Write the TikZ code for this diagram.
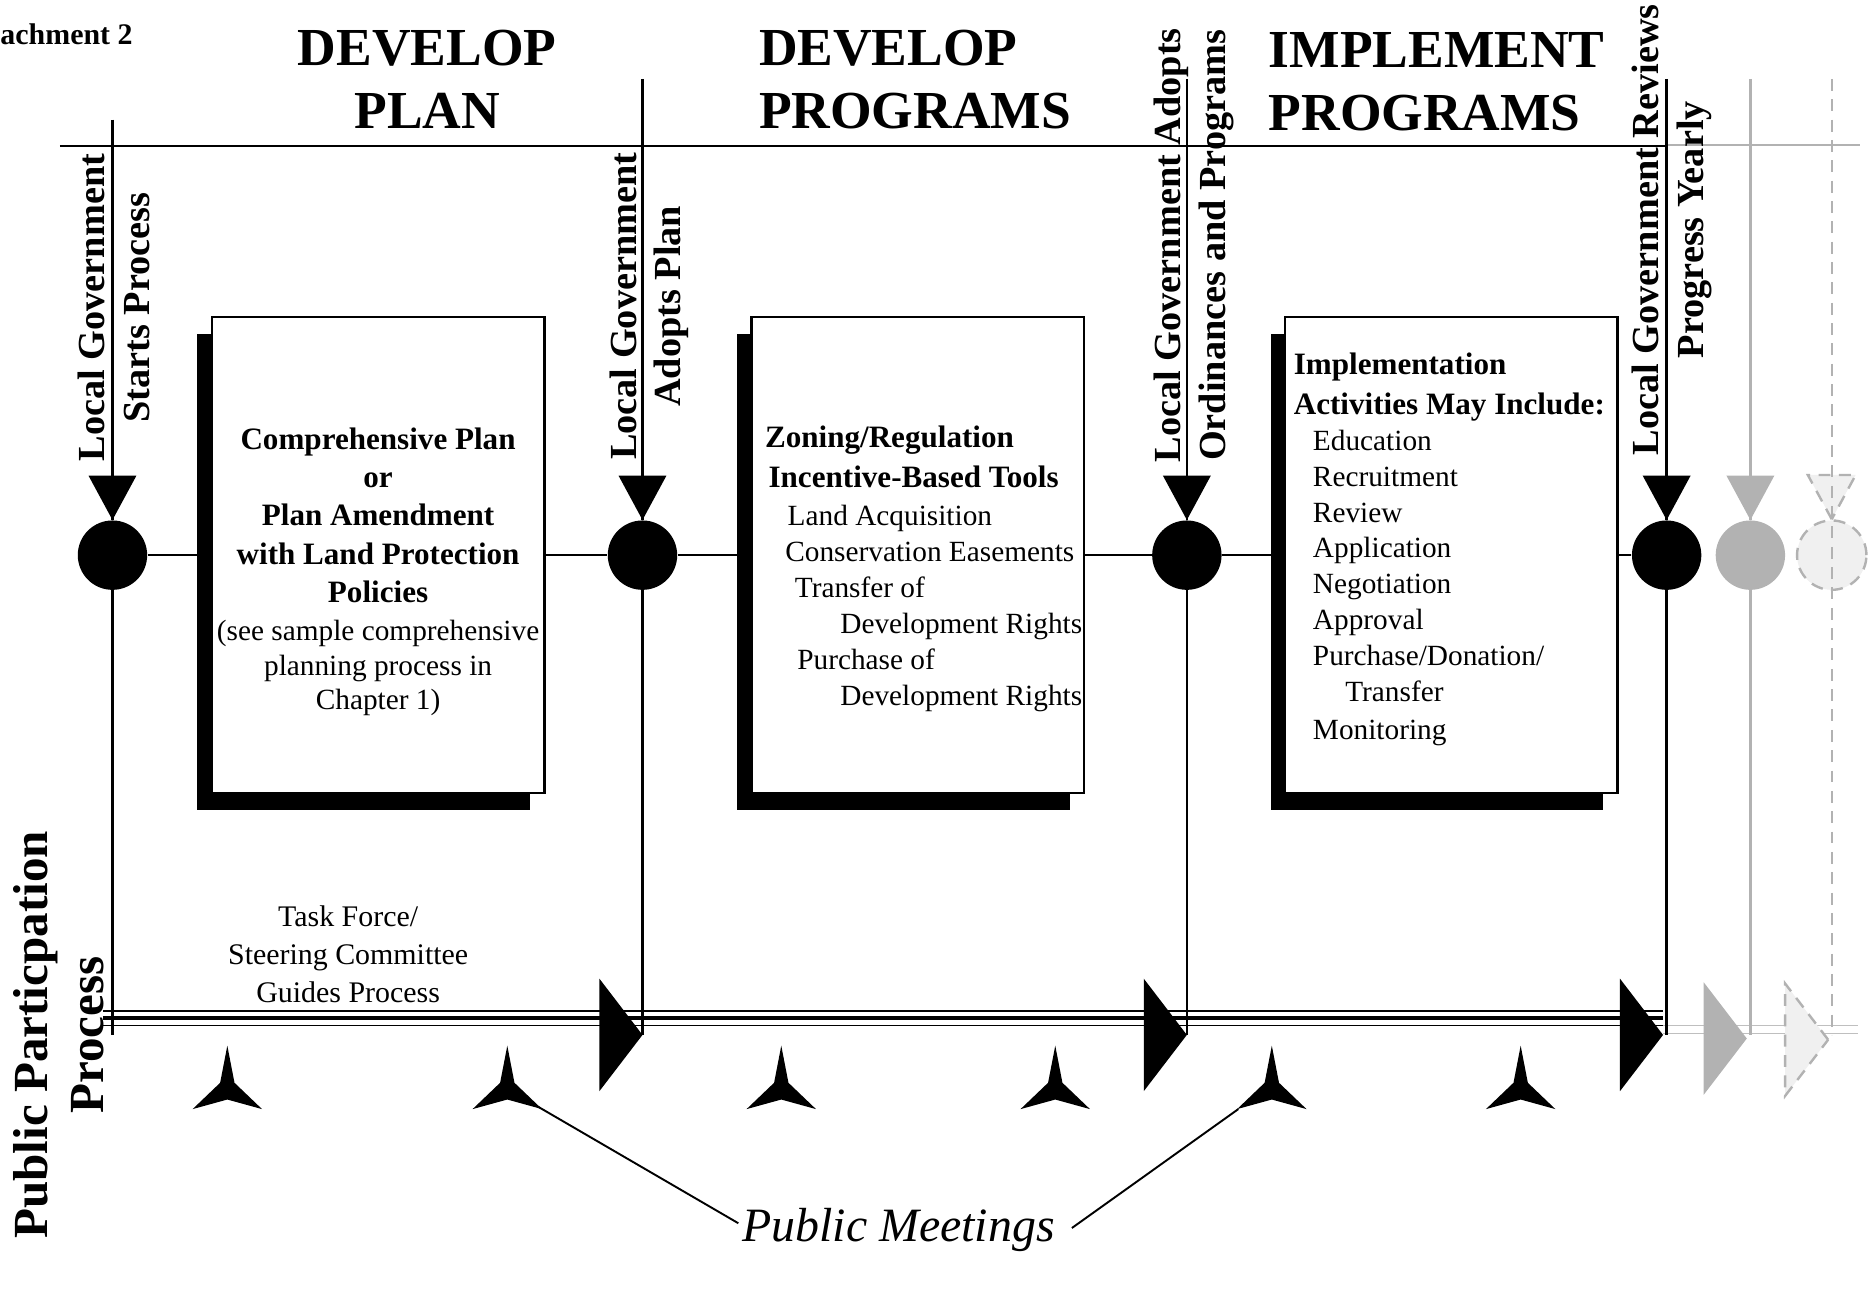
\documentclass[tikz,border=0pt]{standalone}
\usepackage{fontspec}
\setmainfont{Liberation Serif}
\usetikzlibrary{shadows}
\def\downflag[#1](#2){\path[#1,shift={(#2)}] (0,0) -- (-20,-37) -- (20,-37) -- cycle;}
\def\rightflag[#1](#2){\path[#1,shift={(#2)}] (0,0) -- (-36,-47) -- (-36,47) -- cycle;}
\def\meeting(#1){\fill[shift={(#1)}] (0,0) -- (6,31) -- (29,53) -- (0,45) -- (-29,53) -- (-6,31) -- cycle;}
\def\boxbf{\fontsize{13}{16}\selectfont\bfseries}
\tikzset{
	rule/.style={line width=1pt},
	ghost/.style={line width=1pt, draw=black!30},
	faint/.style={fill=black!6, draw=black!30, line width=1pt, dash pattern=on 5pt off 3.5pt},
	stone/.style={circle, fill=black, minimum size=29pt, inner sep=0pt},
	page/.style={draw, line width=1pt, fill=white, minimum width=139pt, minimum height=199pt, inner sep=0pt,
		general shadow={fill=black, shadow xshift=-6pt, shadow yshift=-7pt}},
	head/.style={inner sep=0pt, font=\fontsize{22.35}{26.5}\selectfont\bfseries},
	vlabel/.style={rotate=90, anchor=north, align=center, inner sep=0pt, font=\fontsize{16}{18.75}\selectfont\bfseries},
	body/.style={inner sep=0pt, font=\fontsize{12.25}{15}\selectfont},
}

\begin{document}
\begin{tikzpicture}[x=0.5pt, y=-0.5pt]
		%%%%% START %%%%%
		\useasboundingbox (0,0) rectangle (1568,1082);
		
		\node[anchor=base west, inner sep=0pt, font=\fontsize{12.5}{15}\selectfont\bfseries] (att) at (0,37) {achment 2};
		
		\node[head, align=center] (h1) at (357,66.5) {DEVELOP\\PLAN};
		\node[head, align=left, anchor=west] (h2) at (634,66.5) {DEVELOP\\PROGRAMS};
		\node[head, align=left, anchor=west] (h3) at (1060,68.5) {IMPLEMENT\\PROGRAMS};
		
		% top rule
		\draw[rule] (50,122) -- (1393,122);
		\draw[ghost] (1393,121) -- (1555,121);
		
		% participation line
		\coordinate (pp0) at (86,851);
		\coordinate (pp1) at (1390,851);
		\draw[line width=0.6pt, double distance=5.4pt] (pp0) -- (pp1);
		\draw[line width=1.8pt] (pp0) -- (pp1);
		\coordinate (pg0) at (1390,860.5);
		\coordinate (pg1) at (1553,860.5);
		\draw[line width=0.5pt, draw=black!25, double distance=3pt] (pg0) -- (pg1);
		
		% milestones
		\foreach \n/\x/\t in {1/94/100, 2/537/66, 3/992/66, 4/1393/66} {
			\coordinate (t\n) at (\x,\t);
			\coordinate (b\n) at (\x,865);
			\node[stone] (c\n) at (\x,464) {};
			\draw[rule] (t\n) -- (c\n) -- (b\n);
			\downflag[fill=black](c\n.north);
		}
		\coordinate (t5) at (1463,66);
		\coordinate (b5) at (1463,865);
		\node[stone, fill=black!30] (c5) at (1463,464) {};
		\draw[ghost] (t5) -- (c5) -- (b5);
		\downflag[fill=black!30](c5.north);
		\coordinate (t6) at (1531,66);
		\coordinate (b6) at (1531,865);
		\node[stone, faint] (c6) at (1531,464) {};
		\downflag[faint](c6.north);
		\draw[ghost, dash pattern=on 5pt off 3.5pt] (t6) -- (b6);
		
		\rightflag[fill=black](b2);
		\rightflag[fill=black](b3);
		\rightflag[fill=black]([xshift=-1.5pt]b4);
		\rightflag[fill=black!30]([shift={(-3,3)}]b5);
		\rightflag[faint]([shift={(-3,4)}]b6);
		
		\node[vlabel] (l1) at (65,257) {Local Government\\Starts Process};
		\node[vlabel] (l2) at (509,256) {Local Government\\Adopts Plan};
		\node[vlabel] (l3) at (964,205) {Local Government Adopts\\Ordinances and Programs};
		\node[vlabel] (l4) at (1364,192) {Local Government Reviews\\Progress Yearly};
		
		% the three stages
		\node[page] (box1) at (316,464) {};
		\node[page] (box2) at (767,464) {};
		\node[page] (box3) at (1213,464) {};
		\draw[rule] (c1) -- (box1) -- (c2) -- (box2) -- (c3) -- (box3) -- (c4);
		
		\node[body, align=center] (txt1) at ([yshift=-7pt]box1.center) {{\boxbf Comprehensive Plan}\\[1pt]
			{\boxbf or}\\[1pt] {\boxbf Plan Amendment}\\[1pt] {\boxbf with Land Protection}\\[1pt]
			{\boxbf Policies}\\[1pt] (see sample comprehensive\\[-0.5pt] planning process in\\[-0.5pt] Chapter 1)};
		\node[body, align=left, anchor=west] (txt2) at ([shift={(12,11.5)}]box2.west) {{\boxbf Zoning/Regulation}\\[1.5pt]
			\hspace*{1.5pt}{\boxbf Incentive-Based Tools}\\[1pt]
			\hspace*{9.5pt}Land Acquisition\\
			\hspace*{8.5pt}Conservation Easements\\
			\hspace*{12.5pt}Transfer of\\
			\hspace*{31.5pt}Development Rights\\
			\hspace*{13.5pt}Purchase of\\
			\hspace*{31.5pt}Development Rights};
		\node[body, align=left, anchor=west] (txt3) at ([shift={(8,-4.5)}]box3.west) {{\boxbf Implementation}\\[1.5pt]
			{\boxbf Activities May Include:}\\
			\hspace*{8pt}Education\\
			\hspace*{8pt}Recruitment\\
			\hspace*{8pt}Review\\
			\hspace*{8pt}Application\\
			\hspace*{8pt}Negotiation\\
			\hspace*{8pt}Approval\\
			\hspace*{8pt}Purchase/Donation/\\
			\hspace*{21.5pt}Transfer\\[1pt]
			\hspace*{8pt}Monitoring};
		
		\node[body, align=center, font=\fontsize{12.5}{16}\selectfont] (tf) at (291,797.5) {Task Force/\\Steering Committee\\Guides Process};
		\node[rotate=90, align=center, inner sep=0pt, font=\fontsize{20.5}{23.5}\selectfont\bfseries] (ppp) at (49,865) {Public Particpation\\Process};
		
		% public meetings
		\foreach \x [count=\i] in {190,424,653,882,1063,1271} {
			\coordinate (m\i) at (\x,874);
			\meeting(m\i);
		}
		\node[inner sep=0pt, anchor=base, font=\fontsize{20}{24}\selectfont\itshape] (pm) at (751,1038) {Public Meetings};
		\draw[line width=0.8pt] ([shift={(-3,-6)}]pm.west) -- ([shift={(24,50)}]m2);
		\draw[line width=0.8pt] ([shift={(14,-2)}]pm.east) -- ([shift={(-28,53)}]m5);
		
		%%%%% END %%%%%
\end{tikzpicture}
\end{document}
